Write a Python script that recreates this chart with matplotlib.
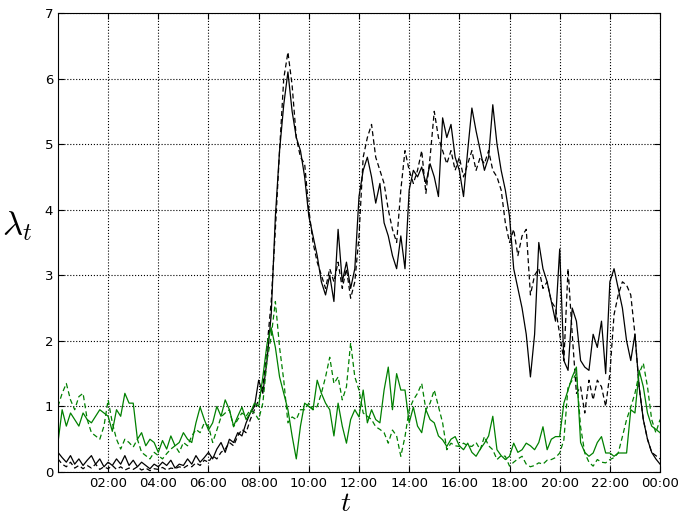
import numpy as np
import matplotlib
matplotlib.use('Agg')
import matplotlib.pyplot as plt

plt.rcParams['mathtext.fontset'] = 'cm'

# values every 10 minutes from 00:00 to 24:00 (145 points)
black_solid = [
    0.30, 0.22, 0.15, 0.25, 0.12, 0.20,
    0.10, 0.18, 0.25, 0.12, 0.20, 0.08,
    0.15, 0.10, 0.20, 0.12, 0.25, 0.10,
    0.18, 0.08, 0.15, 0.10, 0.05, 0.12,
    0.08, 0.15, 0.10, 0.18, 0.06, 0.12,
    0.10, 0.20, 0.12, 0.25, 0.15, 0.22,
    0.30, 0.20, 0.35, 0.45, 0.30, 0.50,
    0.45, 0.60, 0.55, 0.75, 0.90, 1.00,
    1.40, 1.20, 1.70, 2.40, 3.90, 4.90,
    5.60, 6.10, 5.50, 5.10, 4.90, 4.50,
    3.90, 3.60, 3.30, 2.90, 2.70, 3.00,
    2.60, 3.70, 2.90, 3.20, 2.80, 3.10,
    4.20, 4.60, 4.80, 4.50, 4.10, 4.40,
    3.80, 3.60, 3.30, 3.10, 3.60, 3.10,
    4.30, 4.60, 4.50, 4.65, 4.40, 4.70,
    4.50, 4.20, 5.40, 5.10, 5.30, 4.80,
    4.60, 4.20, 4.90, 5.55, 5.20, 4.90,
    4.60, 4.80, 5.60, 5.00, 4.60, 4.30,
    3.90, 3.10, 2.80, 2.50, 2.10, 1.45,
    2.10, 3.50, 3.10, 2.90, 2.60, 2.30,
    3.40, 1.70, 1.55, 2.50, 2.30, 1.70,
    1.60, 1.55, 2.10, 1.90, 2.30, 1.50,
    2.90, 3.10, 2.80, 2.50, 2.00, 1.70,
    2.10, 1.30, 0.80, 0.50, 0.30, 0.20,
    0.12,
]
black_dashed = [
    0.20, 0.12, 0.08, 0.15, 0.06, 0.10,
    0.05, 0.10, 0.06, 0.12, 0.04, 0.08,
    0.05, 0.10, 0.04, 0.08, 0.03, 0.06,
    0.04, 0.08, 0.03, 0.06, 0.02, 0.05,
    0.04, 0.07, 0.03, 0.06, 0.05, 0.08,
    0.06, 0.10, 0.08, 0.14, 0.10, 0.18,
    0.15, 0.25, 0.20, 0.30, 0.35, 0.45,
    0.40, 0.55, 0.65, 0.60, 0.80, 0.95,
    1.10, 1.30, 1.90, 2.60, 3.70, 4.90,
    6.00, 6.40, 5.90, 5.10, 4.80, 4.70,
    4.00, 3.50, 3.20, 3.00, 2.80, 3.10,
    2.90, 3.20, 2.80, 3.10, 2.65, 2.90,
    3.60, 4.80, 5.10, 5.30, 4.80, 4.60,
    4.40, 4.00, 3.70, 3.50, 4.30, 4.90,
    4.60, 4.40, 4.60, 4.90, 4.25, 4.80,
    5.50, 5.10, 4.90, 4.70, 4.90, 4.60,
    4.80, 4.50, 4.70, 4.90, 4.60, 4.80,
    4.70, 4.90, 4.60, 4.50, 4.30, 3.80,
    3.50, 3.70, 3.30, 3.60, 3.70, 2.70,
    3.00, 3.10, 2.80, 2.90, 2.60, 2.50,
    2.10, 1.70, 3.10, 2.10, 1.20, 1.30,
    0.90, 1.40, 1.10, 1.40, 1.30, 1.00,
    1.50, 2.40, 2.70, 2.90, 2.85, 2.70,
    2.10, 1.30, 0.80, 0.50, 0.30, 0.25,
    0.20,
]
green_solid = [
    0.45, 0.95, 0.70, 0.90, 0.80, 0.70,
    0.90, 0.80, 0.75, 0.85, 0.95, 0.90,
    0.85, 0.62, 0.95, 0.85, 1.20, 1.05,
    1.05, 0.50, 0.60, 0.40, 0.50, 0.45,
    0.30, 0.48, 0.35, 0.55, 0.40, 0.45,
    0.60, 0.50, 0.45, 0.75, 0.99, 0.80,
    0.64, 0.75, 1.00, 0.85, 1.10, 0.95,
    0.70, 0.85, 0.99, 0.80, 0.90, 1.05,
    1.00, 1.45, 1.95, 2.20, 1.90, 1.45,
    1.20, 0.95, 0.55, 0.20, 0.70, 1.05,
    1.00, 0.95, 1.40, 1.20, 1.05, 0.95,
    0.55, 1.05, 0.70, 0.44, 0.80, 0.95,
    0.84, 1.25, 0.75, 0.95, 0.80, 0.75,
    1.25, 1.60, 0.95, 1.50, 1.25, 1.25,
    0.75, 0.99, 0.70, 0.60, 0.95, 0.80,
    0.75, 0.55, 0.49, 0.39, 0.50, 0.54,
    0.40, 0.34, 0.44, 0.30, 0.24, 0.35,
    0.44, 0.55, 0.85, 0.34, 0.25, 0.19,
    0.24, 0.44, 0.30, 0.34, 0.44, 0.40,
    0.34, 0.45, 0.69, 0.34, 0.50, 0.54,
    0.54, 1.05, 1.25, 1.45, 1.60, 0.45,
    0.30, 0.24, 0.29, 0.45, 0.54, 0.29,
    0.29, 0.24, 0.29, 0.29, 0.29, 0.95,
    0.90, 1.55, 1.30, 0.90, 0.70, 0.65,
    0.60,
]
green_dashed = [
    1.00, 1.20, 1.35, 1.10, 0.95, 1.15,
    1.20, 0.80, 0.60, 0.55, 0.50, 0.70,
    1.10, 0.75, 0.50, 0.35, 0.50, 0.45,
    0.38, 0.50, 0.30, 0.25, 0.20, 0.30,
    0.25, 0.20, 0.28, 0.35, 0.40, 0.30,
    0.45, 0.40, 0.55, 0.65, 0.60, 0.75,
    0.70, 0.45, 0.64, 0.84, 0.90, 0.95,
    0.69, 0.80, 0.90, 0.85, 0.95, 0.90,
    0.80, 1.05, 1.70, 2.07, 2.60, 1.90,
    1.40, 0.75, 0.84, 0.80, 0.95, 0.95,
    1.05, 0.95, 1.00, 1.20, 1.45, 1.75,
    1.35, 1.45, 1.10, 1.30, 1.97, 1.45,
    1.25, 0.90, 0.85, 0.80, 0.69, 0.65,
    0.60, 0.44, 0.64, 0.55, 0.24, 0.54,
    0.95, 1.10, 1.20, 1.35, 0.95, 1.05,
    1.25, 1.00, 0.75, 0.34, 0.44, 0.40,
    0.39, 0.44, 0.40, 0.39, 0.45, 0.34,
    0.54, 0.40, 0.34, 0.19, 0.25, 0.24,
    0.09, 0.15, 0.20, 0.24, 0.12, 0.08,
    0.10, 0.14, 0.12, 0.18, 0.19, 0.22,
    0.29, 0.49, 1.30, 1.40, 1.50, 0.69,
    0.29, 0.15, 0.09, 0.19, 0.15, 0.14,
    0.19, 0.22, 0.29, 0.54, 0.80, 0.99,
    1.20, 1.50, 1.66, 1.30, 0.80, 0.60,
    0.80,
]
tick_hours = [2, 4, 6, 8, 10, 12, 14, 16, 18, 20, 22, 24]
tick_labels = ["02:00", "04:00", "06:00", "08:00", "10:00", "12:00",
               "14:00", "16:00", "18:00", "20:00", "22:00", "00:00"]

hours = np.arange(len(black_solid)) * 10 / 60.0

fig = plt.figure(figsize=(6.78, 5.17), dpi=100)
ax = fig.add_axes([0.0855, 0.087, 0.888, 0.888])

ax.plot(hours, black_solid, color='k', lw=0.9)
ax.plot(hours, black_dashed, color='k', lw=0.9, ls='--', dashes=(4, 2.5))
ax.plot(hours, green_solid, color='g', lw=0.9)
ax.plot(hours, green_dashed, color='g', lw=0.9, ls='--', dashes=(4, 2.5))

ax.set_xlim(0, 24)
ax.set_ylim(0, 7)
ax.set_xticks(tick_hours)
ax.set_xticklabels(tick_labels)
ax.set_yticks(range(8))
ax.tick_params(direction='in', length=4, top=True, right=True, labelsize=9.5)
ax.grid(True, color='k', ls=':', lw=0.8)

ax.set_xlabel(r'$t$', fontsize=20)
ax.xaxis.set_label_coords(0.477, -0.067, transform=ax.transAxes)
ax.xaxis.label.set_va('center')
ax.set_ylabel(r'$\lambda_t$', fontsize=25, rotation=0)
ax.yaxis.set_label_coords(-0.068, 0.535, transform=ax.transAxes)
ax.yaxis.label.set_va('center')

fig.savefig('out.png', dpi=100)
